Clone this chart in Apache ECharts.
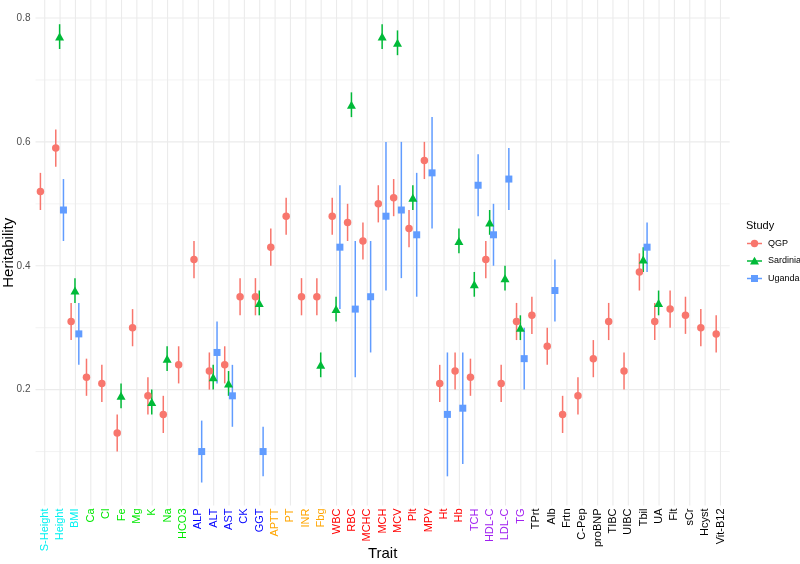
<!DOCTYPE html>
<html><head><meta charset="utf-8">
<script src="https://cdn.jsdelivr.net/npm/echarts@6/dist/echarts.min.js"></script>
<style>html,body{margin:0;padding:0;background:#fff}#c{width:800px;height:564px}</style>
</head><body><div id="c"></div>
<script>
const categories = ['S-Height','Height','BMI','Ca','Cl','Fe','Mg','K','Na','HCO3',
  'ALP','ALT','AST','CK','GGT','APTT','PT','INR','Fbg','WBC',
  'RBC','MCHC','MCH','MCV','Plt','MPV','Ht','Hb','TCH','HDL-C',
  'LDL-C','TG','TPrt','Alb','Frtn','C-Pep','proBNP','TIBC','UIBC','Tbil',
  'UA','Flt','sCr','Hcyst','Vit-B12'];
const traitGroups = ['body','body','body','elec','elec','elec','elec','elec','elec','elec',
  'liver','liver','liver','liver','liver','coag','coag','coag','coag','blood',
  'blood','blood','blood','blood','blood','blood','blood','blood','lipid','lipid',
  'lipid','lipid','other','other','other','other','other','other','other','other',
  'other','other','other','other','other'];

const qgpEst = [0.52,0.59,0.31,0.22,0.21,0.13,0.30,0.19,0.16,0.24,
  0.41,0.23,0.24,0.35,0.35,0.43,0.48,0.35,0.35,0.48,
  0.47,0.44,0.50,0.51,0.46,0.57,0.21,0.23,0.22,0.41,
  0.21,0.31,0.32,0.27,0.16,0.19,0.25,0.31,0.23,0.39,
  0.31,0.33,0.32,0.30,0.29];
const qgpLo = [0.49,0.56,0.28,0.19,0.18,0.10,0.27,0.16,0.13,0.21,
  0.38,0.20,0.21,0.32,0.32,0.40,0.45,0.32,0.32,0.45,
  0.44,0.41,0.47,0.48,0.43,0.54,0.18,0.20,0.19,0.38,
  0.18,0.28,0.29,0.24,0.13,0.16,0.22,0.28,0.20,0.36,
  0.28,0.30,0.29,0.27,0.26];
const qgpHi = [0.55,0.62,0.34,0.25,0.24,0.16,0.33,0.22,0.19,0.27,
  0.44,0.26,0.27,0.38,0.38,0.46,0.51,0.38,0.38,0.51,
  0.50,0.47,0.53,0.54,0.49,0.60,0.24,0.26,0.25,0.44,
  0.24,0.34,0.35,0.30,0.19,0.22,0.28,0.34,0.26,0.42,
  0.34,0.36,0.35,0.33,0.32];

const sarEst = [null,0.77,0.36,null,null,0.19,null,0.18,0.25,null,
  null,0.22,0.21,null,0.34,null,null,null,0.24,0.33,
  0.66,null,0.77,0.76,0.51,null,null,0.44,0.37,0.47,
  0.38,0.30,null,null,null,null,null,null,null,0.41,
  0.34,null,null,null,null];
const sarLo = [null,0.75,0.34,null,null,0.17,null,0.16,0.23,null,
  null,0.20,0.19,null,0.32,null,null,null,0.22,0.31,
  0.64,null,0.75,0.74,0.49,null,null,0.42,0.35,0.45,
  0.36,0.28,null,null,null,null,null,null,null,0.39,
  0.32,null,null,null,null];
const sarHi = [null,0.79,0.38,null,null,0.21,null,0.20,0.27,null,
  null,0.24,0.23,null,0.36,null,null,null,0.26,0.35,
  0.68,null,0.79,0.78,0.53,null,null,0.46,0.39,0.49,
  0.40,0.32,null,null,null,null,null,null,null,0.43,
  0.36,null,null,null,null];

const ugaEst = [null,0.49,0.29,null,null,null,null,null,null,null,
  0.10,0.26,0.19,null,0.10,null,null,null,null,0.43,
  0.33,0.35,0.48,0.49,0.45,0.55,0.16,0.17,0.53,0.45,
  0.54,0.25,null,0.36,null,null,null,null,null,0.43,
  null,null,null,null,null];
const ugaLo = [null,0.44,0.24,null,null,null,null,null,null,null,
  0.05,0.21,0.14,null,0.06,null,null,null,null,0.33,
  0.22,0.26,0.36,0.38,0.35,0.46,0.06,0.08,0.48,0.40,
  0.49,0.20,null,0.31,null,null,null,null,null,0.39,
  null,null,null,null,null];
const ugaHi = [null,0.54,0.34,null,null,null,null,null,null,null,
  0.15,0.31,0.24,null,0.14,null,null,null,null,0.53,
  0.44,0.44,0.60,0.60,0.55,0.64,0.26,0.26,0.58,0.50,
  0.59,0.30,null,0.41,null,null,null,null,null,0.47,
  null,null,null,null,null];

const studyNames = ['QGP','Sardinia','Uganda'];
const yMajor = [0.2,0.4,0.6,0.8];
const yMinor = [0.1,0.3,0.5,0.7];

const groupColor = {body:'#00F0F0', elec:'#00E800', liver:'#0000FF', coag:'#FFA500', blood:'#FF0000', lipid:'#A020F0', other:'#000000'};
const studies = [
  {name:studyNames[0], est:qgpEst, lo:qgpLo, hi:qgpHi, color:'#F8766D', symbol:'circle', size:7.5, dodge:-0.28},
  {name:studyNames[1], est:sarEst, lo:sarLo, hi:sarHi, color:'#00BA38', symbol:'triangle', size:[9,8], dodge:-0.03},
  {name:studyNames[2], est:ugaEst, lo:ugaLo, hi:ugaHi, color:'#619CFF', symbol:'rect', size:7, dodge:0.22}
];

const X_MIN = 0.4, X_MAX = categories.length + 0.6;
const Y_MIN = 0.0129, Y_MAX = 0.8291;
const FONT = '"Liberation Sans", Arial, Helvetica, sans-serif';

const series = [];
series.push({
  type:'custom', name:'hgrid', silent:true, z:0,
  data: yMajor.map(v=>[X_MIN, v, 1.1]).concat(yMinor.map(v=>[X_MIN, v, 0.6])),
  encode:{x:0,y:1},
  renderItem:(p, api)=>{
    const a = api.coord([X_MIN, api.value(1)]);
    const b = api.coord([X_MAX, api.value(1)]);
    return {type:'line', shape:{x1:a[0],y1:a[1],x2:b[0],y2:b[1]}, style:{stroke:'#EBEBEB', lineWidth:api.value(2)}};
  }
});
series.push({
  type:'custom', name:'vgrid', silent:true, z:0,
  data: categories.map((c,i)=>[i+1, Y_MIN]),
  encode:{x:0,y:1},
  renderItem:(p, api)=>{
    const a = api.coord([api.value(0), Y_MIN]);
    const b = api.coord([api.value(0), Y_MAX]);
    return {type:'line', shape:{x1:a[0],y1:a[1],x2:b[0],y2:b[1]}, style:{stroke:'#EBEBEB', lineWidth:1.1}};
  }
});
studies.forEach(s=>{
  const pts = [], bars = [];
  s.est.forEach((v,i)=>{
    if (v == null) return;
    pts.push([i+1+s.dodge, v]);
    bars.push([i+1+s.dodge, s.lo[i], s.hi[i]]);
  });
  series.push({
    type:'custom', name:s.name+' CI', silent:true, z:2,
    data:bars, encode:{x:0,y:[1,2]},
    renderItem:(p, api)=>{
      const a = api.coord([api.value(0), api.value(1)]);
      const b = api.coord([api.value(0), api.value(2)]);
      return {type:'line', shape:{x1:a[0],y1:a[1],x2:b[0],y2:b[1]}, style:{stroke:s.color, lineWidth:1.5}};
    }
  });
  series.push({
    type:'scatter', name:s.name, z:3, data:pts, symbol:s.symbol, symbolSize:s.size,
    itemStyle:{color:s.color, opacity:1}, emphasis:{disabled:true}
  });
});

const rich = {};
Object.keys(groupColor).forEach(k=>{ rich[k] = {color:groupColor[k], fontSize:11, fontFamily:FONT}; });

// legend (drawn as graphic so long labels are not truncated at the page edge)
const LX = 747, LY0 = 243.5, LSTEP = 17.5;
const legendGraphics = [{type:'text', left:746, top:220, style:{text:'Study', fontSize:11, fill:'#000', fontFamily:FONT}}];
studies.forEach((s,i)=>{
  const cy = LY0 + i*LSTEP, cx = LX + 7.5;
  const kids = [{type:'line', shape:{x1:LX, y1:cy, x2:LX+15, y2:cy}, style:{stroke:s.color, lineWidth:1.5}}];
  if (s.symbol === 'circle') kids.push({type:'circle', shape:{cx:cx, cy:cy, r:3.7}, style:{fill:s.color}});
  else if (s.symbol === 'triangle') kids.push({type:'polygon', shape:{points:[[cx,cy-4.2],[cx+4.5,cy+3.6],[cx-4.5,cy+3.6]]}, style:{fill:s.color}});
  else kids.push({type:'rect', shape:{x:cx-3.5, y:cy-3.5, width:7, height:7}, style:{fill:s.color}});
  kids.push({type:'text', x:LX+21, y:cy, style:{text:s.name, fontSize:9, fill:'#000', fontFamily:FONT, verticalAlign:'middle', align:'left'}});
  legendGraphics.push({type:'group', children:kids});
});

const chart = echarts.init(document.getElementById('c'), null, {renderer:'canvas'});
chart.setOption({
  animation:false,
  backgroundColor:'#fff',
  textStyle:{fontFamily:FONT},
  grid:{left:35.5, right:70.3, top:0, bottom:58.5, containLabel:false, outerBoundsMode:'none'},
  xAxis:{
    type:'value', min:X_MIN, max:X_MAX,
    splitLine:{show:false}, axisLine:{show:false}, axisTick:{show:false},
    name:'Trait', nameLocation:'middle', nameGap:41, nameMoveOverlap:false,
    nameTextStyle:{fontSize:15, color:'#000', fontFamily:FONT},
    axisLabel:{
      customValues: categories.map((c,i)=>i+1),
      rotate:90, margin:3, hideOverlap:false,
      formatter:(v)=>{ const i = Math.round(v)-1; return '{'+traitGroups[i]+'|'+categories[i]+'}'; },
      rich:rich
    }
  },
  yAxis:{
    type:'value', min:Y_MIN, max:Y_MAX,
    splitLine:{show:false}, axisLine:{show:false}, axisTick:{show:false},
    name:'Heritability', nameLocation:'middle', nameGap:19, nameMoveOverlap:false,
    nameTextStyle:{fontSize:15, color:'#000', fontFamily:FONT},
    axisLabel:{customValues:yMajor, formatter:(v)=>v.toFixed(1), color:'#4D4D4D', fontSize:10, margin:5}
  },
  graphic:legendGraphics,
  series:series
});
</script></body></html>
